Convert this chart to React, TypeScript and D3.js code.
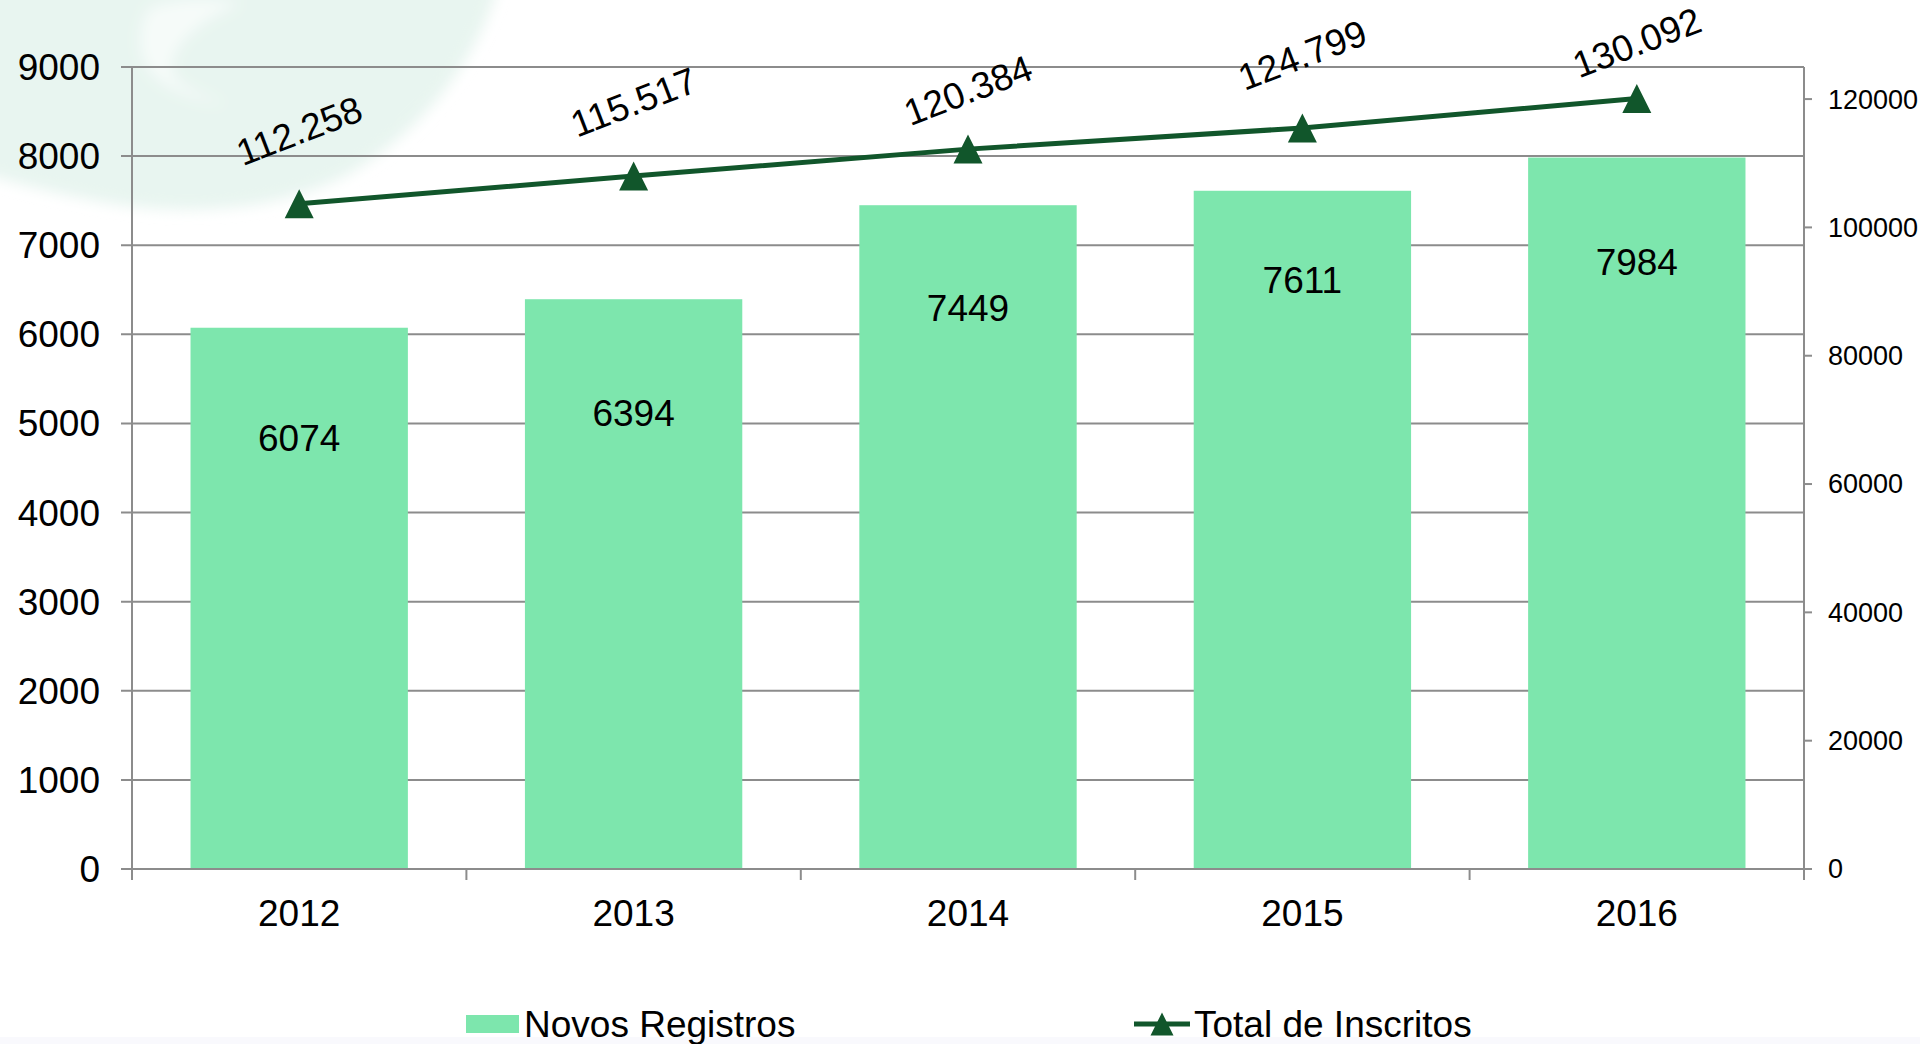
import React from 'react';
import * as d3 from 'd3';

const years = ['2012', '2013', '2014', '2015', '2016'];
const novosRegistros = [6074, 6394, 7449, 7611, 7984];
// line is drawn at these positions on the right axis; the labels carry the published totals
const totalInscritos = [103700, 108000, 112200, 115500, 120100];
const totalLabels = ['112.258', '115.517', '120.384', '124.799', '130.092'];
const leftTicks = [0, 1000, 2000, 3000, 4000, 5000, 6000, 7000, 8000, 9000];
const rightTicks = [0, 20000, 40000, 60000, 80000, 100000, 120000];

// small per-label vertical nudges (px) as placed in the original
const barLabelDrop = [110, 114, 103, 89, 105];
const lineLabelRise = [73, 74, 59, 73, 56];

const W = 1920;
const H = 1044;
const plot = { left: 132, right: 1804, top: 67, bottom: 869 };

const FONT = '"Liberation Sans", Arial, Helvetica, sans-serif';
const BAR = '#7de6ad';
const LINE = '#11562b';
const GRID = '#8c8c8c';

const tri = (s: number) => `M0,${-s / 2}L${s / 2},${s / 2}L${-s / 2},${s / 2}Z`;

export default function App() {
  const x = d3
    .scaleBand<string>()
    .domain(years)
    .range([plot.left, plot.right])
    .paddingInner(0.35)
    .paddingOuter(0.175);
  const yL = d3.scaleLinear().domain([0, 9000]).range([plot.bottom, plot.top]);
  const yR = d3.scaleLinear().domain([0, 125000]).range([plot.bottom, plot.top]);

  const cx = (y: string) => (x(y) ?? 0) + x.bandwidth() / 2;
  const pts: [number, number][] = years.map((y, i) => [cx(y), yR(totalInscritos[i])]);
  const line = d3.line<[number, number]>().x(d => d[0]).y(d => d[1]);

  const boundaries = d3.range(years.length + 1).map(i => plot.left + i * x.step());

  return (
    <svg
      width={W}
      height={H}
      style={{ position: 'absolute', left: 0, top: 0, display: 'block', background: '#fff' }}
      fontFamily={FONT}
    >
      <defs>
        <filter id="soft" x="-20%" y="-20%" width="140%" height="140%">
          <feGaussianBlur stdDeviation="7" />
        </filter>
      </defs>

      {/* faint background decoration */}
      <g filter="url(#soft)">
        <path
          d="M-20,-20 L500,-20 C478,60 425,128 352,172 C282,212 182,218 92,200 C50,192 10,182 -20,172 Z"
          fill="#e8f5f0"
        />
        <path
          d="M150,8 C190,-5 225,0 240,4 C200,20 170,45 172,70 C176,85 200,95 226,104 C190,100 150,85 142,55 C138,35 142,18 150,8 Z"
          fill="#f6fbf9"
        />
      </g>
      <rect x={0} y={1037} width={W} height={7} fill="#f9f9fd" />

      {/* gridlines */}
      {leftTicks.map(t => (
        <line key={t} x1={plot.left - 11} x2={plot.right} y1={yL(t)} y2={yL(t)} stroke={GRID} strokeWidth={2} />
      ))}

      {/* bars */}
      {years.map((y, i) => (
        <rect
          key={y}
          x={x(y)}
          y={yL(novosRegistros[i])}
          width={x.bandwidth()}
          height={plot.bottom - yL(novosRegistros[i])}
          fill={BAR}
        />
      ))}

      {/* axes */}
      <line x1={plot.left} x2={plot.left} y1={plot.top} y2={plot.bottom + 11} stroke={GRID} strokeWidth={2} />
      <line x1={plot.right} x2={plot.right} y1={plot.top} y2={plot.bottom + 11} stroke={GRID} strokeWidth={2} />
      <line x1={plot.left} x2={plot.right} y1={plot.bottom} y2={plot.bottom} stroke={GRID} strokeWidth={2} />
      {boundaries.map((b, i) => (
        <line key={i} x1={b} x2={b} y1={plot.bottom} y2={plot.bottom + 11} stroke={GRID} strokeWidth={2} />
      ))}
      {rightTicks.map(t => (
        <line key={t} x1={plot.right} x2={plot.right + 8} y1={yR(t)} y2={yR(t)} stroke={GRID} strokeWidth={2} />
      ))}

      {/* axis labels */}
      {leftTicks.map(t => (
        <text key={t} x={100} y={yL(t)} dy="0.35em" textAnchor="end" fontSize={37} fill="#000">
          {t}
        </text>
      ))}
      {rightTicks.map(t => (
        <text key={t} x={1828} y={yR(t)} dy="0.35em" textAnchor="start" fontSize={27} fill="#000">
          {t}
        </text>
      ))}
      {years.map(y => (
        <text key={y} x={cx(y)} y={913} dy="0.35em" textAnchor="middle" fontSize={37} fill="#000">
          {y}
        </text>
      ))}

      {/* bar value labels */}
      {years.map((y, i) => (
        <text
          key={y}
          x={cx(y)}
          y={yL(novosRegistros[i]) + barLabelDrop[i]}
          dy="0.35em"
          textAnchor="middle"
          fontSize={37}
          fill="#000"
        >
          {novosRegistros[i]}
        </text>
      ))}

      {/* line series */}
      <path d={line(pts) ?? ''} fill="none" stroke={LINE} strokeWidth={5} />
      {pts.map((p, i) => (
        <path key={i} d={tri(29)} transform={`translate(${p[0]},${p[1]})`} fill={LINE} />
      ))}
      {pts.map((p, i) => (
        <text
          key={i}
          transform={`translate(${p[0]},${p[1] - lineLabelRise[i]}) rotate(-21)`}
          dy="0.35em"
          textAnchor="middle"
          fontSize={37}
          fill="#000"
        >
          {totalLabels[i]}
        </text>
      ))}

      {/* legend */}
      <rect x={466} y={1015} width={53} height={18} fill={BAR} />
      <text x={524} y={1037} fontSize={37} fill="#000">
        Novos Registros
      </text>
      <line x1={1134} x2={1190} y1={1024} y2={1024} stroke={LINE} strokeWidth={5} />
      <path d={tri(23)} transform="translate(1162,1024)" fill={LINE} />
      <text x={1194} y={1037} fontSize={37} fill="#000">
        Total de Inscritos
      </text>
    </svg>
  );
}
